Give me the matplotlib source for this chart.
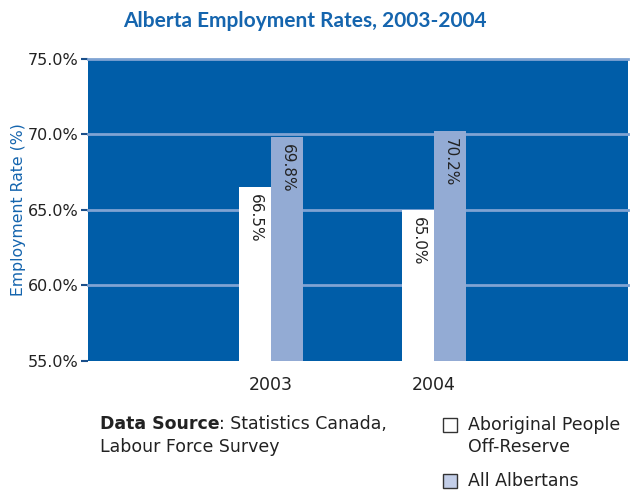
import matplotlib.pyplot as plt
from matplotlib.patches import Rectangle
import numpy as np

years = ['2003', '2004']
aboriginal = [66.5, 65.0]
all_albertans = [69.8, 70.2]
series_names = ['Aboriginal People\nOff-Reserve', 'All Albertans']
yticks = [55, 60, 65, 70, 75]

bg_blue = '#005DA8'
title_blue = '#1565AE'
light_bar = '#93ABD4'
legend_light = '#C3CEE8'
grid_col = '#7FA3D3'
txt = '#222222'

fig = plt.figure(figsize=(6.32, 4.92), dpi=100)
ax = fig.add_axes([0.139, 0.267, 0.855, 0.613])
ax.set_facecolor(bg_blue)

x = np.arange(len(years))
w = 0.196
b1 = ax.bar(x - w / 2, np.array(aboriginal) - 55, w, bottom=55, color='white', zorder=3)
b2 = ax.bar(x + w / 2, np.array(all_albertans) - 55, w, bottom=55, color=light_bar, zorder=3)

for bars, vals in [(b1, aboriginal), (b2, all_albertans)]:
    for r, v in zip(bars, vals):
        ax.text(r.get_x() + r.get_width() / 2, v - 0.45, f'{v:.1f}%', rotation=-90,
                ha='center', va='top', fontsize=11, color=txt, zorder=4)

ax.set_ylim(55, 75)
ax.set_xlim(-1.123, 2.19)
ax.set_yticks(yticks)
ax.set_yticklabels([f'{t:.1f}%' for t in yticks], fontsize=11.5, color=txt)
ax.set_xticks(x)
ax.set_xticklabels(years, fontsize=12.5, color=txt)
ax.tick_params(axis='x', length=0, pad=11)
ax.tick_params(axis='y', length=5, width=1.5, color='#1a4f8a', pad=2)
for yv in yticks[1:]:
    ax.axhline(yv, color=grid_col, lw=2, zorder=2, clip_on=False)
for s in ax.spines.values():
    s.set_visible(False)

ax.set_ylabel('Employment Rate (%)', fontsize=11.3, color=title_blue, labelpad=1)
fig.text(0.482, 0.958, 'Alberta Employment Rates, 2003-2004', ha='center', va='center',
         fontsize=15, fontweight='bold', color=title_blue, family='Lato')

# data source note
t1 = fig.text(0.158, 0.138, 'Data Source', fontsize=12.5, fontweight='bold', color=txt, va='center')
ax.annotate(': Statistics Canada,', xy=(1, 0.5), xycoords=t1, va='center', ha='left',
            fontsize=12.5, color=txt, annotation_clip=False)
fig.text(0.158, 0.091, 'Labour Force Survey', fontsize=12.5, color=txt, va='center')

# legend
sq_bottoms = [0.122, 0.008]
label_y = [0.155, 0.022]
label_va = ['top', 'center']
for name, col, yb, ly, va in zip(series_names, ['white', legend_light], sq_bottoms, label_y, label_va):
    fig.patches.append(Rectangle((0.701, yb), 0.022, 0.028, transform=fig.transFigure,
                                 facecolor=col, edgecolor='#333333', lw=1))
    fig.text(0.741, ly, name, fontsize=12.5, color=txt, va=va, linespacing=1.3)

fig.savefig('out.png', dpi=100)
